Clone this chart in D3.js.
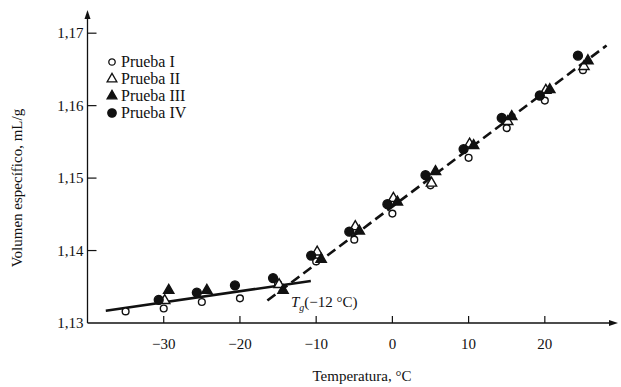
<!DOCTYPE html>
<html>
<head>
<meta charset="utf-8">
<script src="https://cdn.jsdelivr.net/npm/d3@7"></script>
<style>
  body { margin: 0; background: #fff; }
  svg text { font-family: "Liberation Serif", "DejaVu Serif", serif; fill: #111; }
</style>
</head>
<body>
<div id="chart"></div>
<script>
// temperaturas (°C) de las mediciones
const temps = [-35, -30, -25, -20, -15, -10, -5, 0, 5, 10, 15, 20, 25];

// volumen especifico, mL/g (null = no visible)
const prueba_I = [1.1316, 1.1320, 1.1329, 1.1334, 1.1354, 1.1385, 1.1415, 1.1451, 1.1490, 1.1528, 1.1569, 1.1607, 1.1649];
const prueba_II = [null, 1.1331, null, null, 1.1353, 1.1398, 1.1433, 1.1472, 1.1493, 1.1547, 1.1578, 1.1621, 1.1654];
const prueba_III = [null, 1.1345, 1.1345, null, 1.1345, 1.1388, 1.1427, 1.1467, 1.1509, 1.1545, 1.1585, 1.1622, 1.1662];
const prueba_IV = [null, 1.1332, 1.1342, 1.1352, 1.1362, 1.1393, 1.1426, 1.1464, 1.1504, 1.1540, 1.1583, 1.1614, 1.1669];

// rectas de ajuste
const linea_vidrio = [[-37.6, 1.1317], [-10.7, 1.1358]];
const linea_caucho = [[-16.4, 1.1331], [28.1, 1.1683]];

const x_ticks = [-30, -20, -10, 0, 10, 20];
const y_ticks = [1.14, 1.15, 1.16, 1.17];
const y_labels = [1.13, 1.14, 1.15, 1.16, 1.17];

const width = 621, height = 387;
const svg = d3.select("#chart").append("svg")
  .attr("width", width).attr("height", height);

const x = d3.scaleLinear().domain([-40, 29.6]).range([87.5, 618]);
const y = d3.scaleLinear().domain([1.13, 1.1732]).range([323, 10]);
const comma = (v) => d3.format(".2f")(v).replace(".", ",");

// ejes
svg.append("line")
  .attr("x1", x(-40)).attr("x2", x(29.6) - 4)
  .attr("y1", y(1.13)).attr("y2", y(1.13))
  .attr("stroke", "#111").attr("stroke-width", 1.3);
svg.append("line")
  .attr("x1", x(-40)).attr("x2", x(-40))
  .attr("y1", y(1.13)).attr("y2", y(1.1732) + 4)
  .attr("stroke", "#111").attr("stroke-width", 1.3);

// flechas
svg.append("path")
  .attr("d", `M${x(29.6)},${y(1.13)} l-9,-3 l0,6 z`).attr("fill", "#111");
svg.append("path")
  .attr("d", `M${x(-40)},${y(1.1732)} l-3,9 l6,0 z`).attr("fill", "#111");

svg.selectAll(".xtick").data(x_ticks).enter().append("line")
  .attr("x1", (d) => x(d)).attr("x2", (d) => x(d))
  .attr("y1", y(1.13)).attr("y2", y(1.13) - 7)
  .attr("stroke", "#111").attr("stroke-width", 1.2);
svg.selectAll(".xlab").data(x_ticks).enter().append("text")
  .attr("x", (d) => x(d)).attr("y", y(1.13) + 26)
  .attr("text-anchor", "middle").style("font-size", "15px")
  .text((d) => (d < 0 ? "\u2212" + Math.abs(d) : d));

svg.selectAll(".ytick").data(y_ticks).enter().append("line")
  .attr("x1", x(-40)).attr("x2", x(-40) + 9)
  .attr("y1", (d) => y(d)).attr("y2", (d) => y(d))
  .attr("stroke", "#111").attr("stroke-width", 1.2);
svg.selectAll(".ylab").data(y_labels).enter().append("text")
  .attr("x", x(-40) - 4).attr("y", (d) => y(d) + 5)
  .attr("text-anchor", "end").style("font-size", "15px")
  .text((d) => comma(d));

svg.append("text")
  .attr("transform", `translate(22,${(y(1.13) + y(1.17)) / 2 + 10}) rotate(-90)`)
  .attr("text-anchor", "middle").style("font-size", "15px")
  .text("Volumen específico, mL/g");
svg.append("text")
  .attr("x", 362).attr("y", 381)
  .attr("text-anchor", "middle").style("font-size", "15px")
  .text("Temperatura, °C");

// rectas
const line = d3.line().x((d) => x(d[0])).y((d) => y(d[1]));
svg.append("path").attr("d", line(linea_vidrio))
  .attr("stroke", "#111").attr("stroke-width", 2.6).attr("fill", "none");
svg.append("path").attr("d", line(linea_caucho))
  .attr("stroke", "#111").attr("stroke-width", 2.6).attr("fill", "none")
  .attr("stroke-dasharray", "10,5");

// simbolos
const series = [
  { name: "Prueba I", values: prueba_I, shape: d3.symbolCircle, size: 36, fill: "#fff", dx: 0 },
  { name: "Prueba II", values: prueba_II, shape: d3.symbolTriangle, size: 46, fill: "#fff", dx: 1 },
  { name: "Prueba III", values: prueba_III, shape: d3.symbolTriangle, size: 46, fill: "#111", dx: 5 },
  { name: "Prueba IV", values: prueba_IV, shape: d3.symbolCircle, size: 62, fill: "#111", dx: -5 },
];

series.forEach((s) => {
  const pts = temps.map((t, i) => ({ t: t, v: s.values[i] })).filter((d) => d.v !== null);
  svg.append("g").selectAll("path").data(pts).enter().append("path")
    .attr("d", d3.symbol().type(s.shape).size(s.size))
    .attr("transform", (d) => `translate(${x(d.t) + s.dx},${y(d.v)})`)
    .attr("fill", s.fill).attr("stroke", "#111").attr("stroke-width", 1.4);
});

// leyenda
const legend = svg.append("g").attr("transform", "translate(112,62)");
series.forEach((s, i) => {
  const g = legend.append("g").attr("transform", `translate(0,${i * 17})`);
  g.append("path").attr("d", d3.symbol().type(s.shape).size(s.size * 0.9))
    .attr("fill", s.fill).attr("stroke", "#111").attr("stroke-width", 1.3);
  g.append("text").attr("x", 9).attr("y", 5).style("font-size", "16px").text(s.name);
});

// etiqueta Tg
const tg = svg.append("text").attr("x", 291).attr("y", 307).style("font-size", "15px");
tg.append("tspan").style("font-style", "italic").text("T");
tg.append("tspan").attr("dy", 4).style("font-size", "10px").style("font-style", "italic").text("g");
tg.append("tspan").attr("dy", -4).text("(\u221212 °C)");
</script>
</body>
</html>
